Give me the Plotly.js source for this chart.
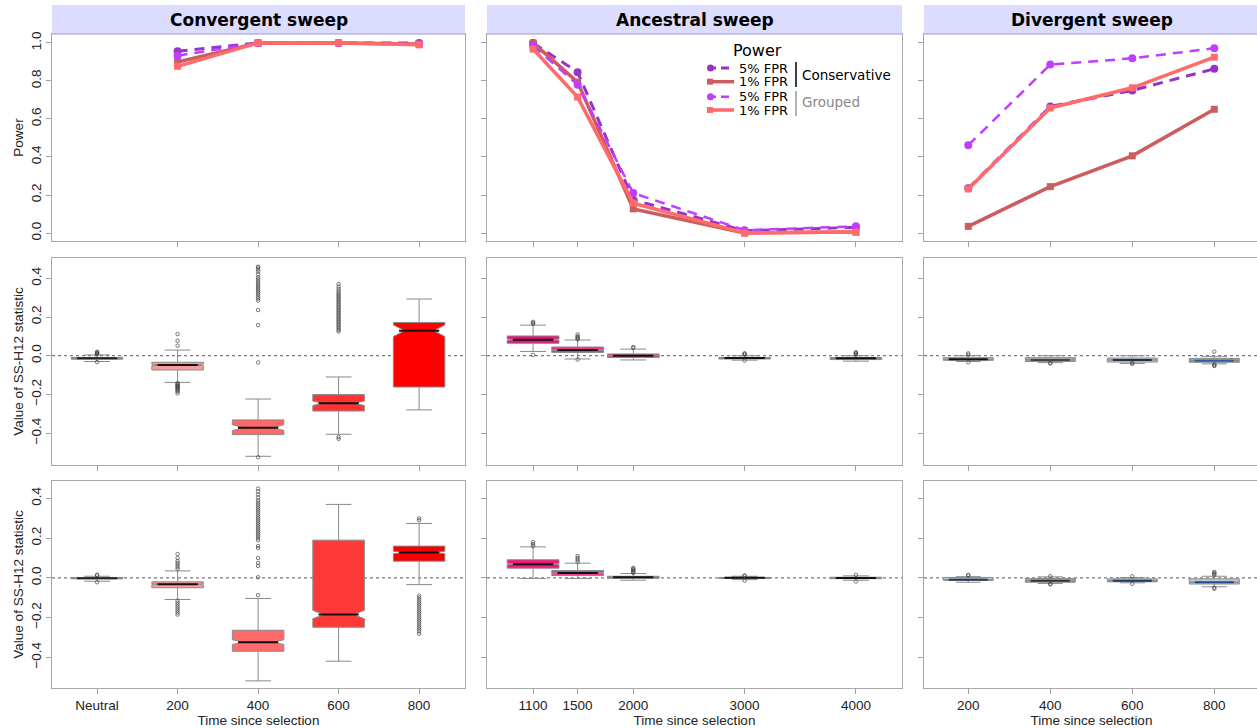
<!DOCTYPE html>
<html><head><meta charset="utf-8">
<script src="https://cdn.plot.ly/plotly-3.0.1.min.js"></script>
<style>html,body{margin:0;padding:0;overflow:hidden;background:#fff}#chart{width:1260px;height:728px}</style>
</head><body><div id="chart"></div>
<script>
// ---------------- DATA ----------------
const panelTitles = ["Convergent sweep", "Ancestral sweep", "Divergent sweep"];
const convCats = ["Neutral", "200", "400", "600", "800"];
const ancTimes = [1100, 1500, 2000, 3000, 4000];
const divTimes = [200, 400, 600, 800];

// Power (top row)
const convPowerTimes = ["200", "400", "600", "800"];
const convCons5 = [0.956, 1.0, 1.0, 1.0];
const convCons1 = [0.900, 1.0, 1.0, 0.995];
const convGrp5  = [0.933, 1.0, 1.0, 0.995];
const convGrp1  = [0.877, 1.0, 1.0, 0.990];

const ancCons5 = [1.000, 0.846, 0.175, 0.012, 0.030];
const ancCons1 = [1.000, 0.794, 0.127, 0.000, 0.005];
const ancGrp5  = [0.985, 0.780, 0.210, 0.015, 0.035];
const ancGrp1  = [0.968, 0.715, 0.157, 0.000, 0.005];

const divCons5 = [0.235, 0.666, 0.750, 0.864];
const divCons1 = [0.035, 0.244, 0.406, 0.651];
const divGrp5  = [0.462, 0.886, 0.919, 0.972];
const divGrp1  = [0.232, 0.658, 0.764, 0.925];

const legendLabels = ["5% FPR", "1% FPR", "5% FPR", "1% FPR"];
const legendGroups = ["Conservative", "Grouped"];

// SS-H12 boxplots, middle row (conservative)
const convMidQ1  = [-0.018, -0.074, -0.408, -0.286, -0.162];
const convMidMed = [-0.013, -0.048, -0.372, -0.246,  0.129];
const convMidQ3  = [-0.009, -0.034, -0.332, -0.201,  0.172];
const convMidLo  = [-0.030, -0.138, -0.520, -0.406, -0.280];
const convMidHi  = [ 0.004,  0.029, -0.224, -0.110,  0.293];
const convMidNotch = [0.001, 0.004, 0.015, 0.011, 0.030];
const convMidOut = [
  [0.008, 0.011, 0.014, 0.017, 0.020, -0.033],
  [0.052, 0.077, 0.112, -0.142, -0.146, -0.150, -0.154, -0.158, -0.162, -0.166, -0.170, -0.175, -0.180, -0.186, -0.195],
  [-0.035, 0.158, 0.236, 0.285, 0.295, 0.305, 0.315, 0.325, 0.335, 0.345, 0.355, 0.365, 0.375, 0.385, 0.395, 0.405, 0.420, 0.435, 0.445, 0.455, 0.460, -0.525],
  [-0.420, -0.430, 0.125, 0.133, 0.141, 0.149, 0.157, 0.165, 0.173, 0.181, 0.189, 0.197, 0.205, 0.213, 0.221, 0.229, 0.237, 0.245, 0.253, 0.261, 0.269, 0.277, 0.285, 0.293, 0.301, 0.309, 0.317, 0.325, 0.335, 0.345, 0.357, 0.370],
  []
];

// bottom row (grouped)
const convBotQ1  = [-0.005, -0.050, -0.370, -0.249, 0.084];
const convBotMed = [-0.002, -0.032, -0.324, -0.185, 0.128];
const convBotQ3  = [ 0.002, -0.020, -0.264,  0.190, 0.160];
const convBotLo  = [-0.017, -0.109, -0.519, -0.420, -0.034];
const convBotHi  = [ 0.008,  0.035, -0.104,  0.370, 0.274];
const convBotNotch = [0.001, 0.003, 0.012, 0.021, 0.006];
const convBotOut = [
  [0.012, 0.015, -0.022],
  [0.045, 0.055, 0.065, 0.075, 0.085, 0.100, 0.120, -0.115, -0.125, -0.135, -0.145, -0.155, -0.165, -0.175, -0.185],
  [-0.087, 0.003, 0.060, 0.075, 0.100, 0.150, 0.160, 0.190, 0.200, 0.210, 0.220, 0.230, 0.240, 0.250, 0.260, 0.270, 0.280, 0.290, 0.300, 0.310, 0.320, 0.330, 0.340, 0.350, 0.360, 0.370, 0.380, 0.390, 0.405, 0.420, 0.435, 0.450],
  [],
  [0.290, 0.300, -0.090, -0.100, -0.110, -0.120, -0.130, -0.140, -0.150, -0.160, -0.170, -0.180, -0.190, -0.200, -0.210, -0.220, -0.230, -0.240, -0.250, -0.260, -0.270, -0.282]
];

const ancMidQ1  = [0.064, 0.017, -0.009, -0.017, -0.020];
const ancMidMed = [0.083, 0.029,  0.000, -0.012, -0.013];
const ancMidQ3  = [0.102, 0.045,  0.009, -0.009, -0.009];
const ancMidLo  = [0.022, -0.017, -0.022, -0.023, -0.028];
const ancMidHi  = [0.158, 0.081,  0.034,  0.000,  0.000];
const ancMidNotch = [0.003, 0.002, 0.001, 0.001, 0.001];
const ancMidOut = [
  [0.165, 0.170, 0.175, 0.004],
  [0.085, 0.090, 0.095, 0.100, 0.110, -0.020],
  [0.040, 0.045],
  [0.005, 0.010, 0.012, -0.025],
  [0.005, 0.010, 0.014, 0.018]
];

const ancBotQ1  = [0.049, 0.012, -0.002, -0.003, -0.004];
const ancBotMed = [0.069, 0.024,  0.003,  0.000, -0.001];
const ancBotQ3  = [0.091, 0.037,  0.008,  0.002,  0.003];
const ancBotLo  = [-0.003, -0.003, -0.012, -0.009, -0.012];
const ancBotHi  = [0.156, 0.074,  0.022,  0.008,  0.010];
const ancBotNotch = [0.003, 0.002, 0.001, 0.001, 0.001];
const ancBotOut = [
  [0.160, 0.170, 0.180],
  [0.080, 0.090, 0.100, 0.110],
  [0.025, 0.030, 0.035, 0.040, 0.045, 0.050],
  [0.010, 0.012, -0.014],
  [0.015, -0.018]
];

const divMidQ1  = [-0.024, -0.030, -0.033, -0.034];
const divMidMed = [-0.019, -0.022, -0.022, -0.026];
const divMidQ3  = [-0.010, -0.010, -0.012, -0.014];
const divMidLo  = [-0.030, -0.036, -0.040, -0.042];
const divMidHi  = [ 0.000,  0.000,  0.000, -0.005];
const divMidNotch = [0.001, 0.001, 0.001, 0.001];
const divMidOut = [
  [0.012, 0.005, -0.034],
  [-0.038, -0.040],
  [-0.038, -0.042],
  [0.021, -0.045, -0.050, -0.053]
];

const divBotQ1  = [-0.012, -0.022, -0.020, -0.031];
const divBotMed = [-0.010, -0.015, -0.015, -0.022];
const divBotQ3  = [ 0.002, -0.003, -0.005, -0.005];
const divBotLo  = [-0.022, -0.028, -0.025, -0.045];
const divBotHi  = [ 0.006,  0.005,  0.002,  0.008];
const divBotNotch = [0.001, 0.001, 0.001, 0.001];
const divBotOut = [
  [0.012, 0.015],
  [0.008, -0.030, -0.033],
  [0.008, -0.030],
  [0.015, 0.020, 0.025, 0.030, -0.050, -0.055]
];

const yTitlePower = "Power";
const yTitleStat = "Value of SS-H12 statistic";
const xTitle = "Time since selection";

// ---------------- STYLE ----------------
const W = 1260, H = 728;
const colPx = [[52, 465], [487, 902], [924, 1259]];
const rowPx = [[34, 241], [258, 465], [481, 688]];
const xRanges = [[0.44, 5.57], [686, 4414], [92, 909]];
const yRanges = [[-0.042, 1.047], [-0.565, 0.505], [-0.555, 0.488]];
const boxWidths = [0.64, 465, 122];
const seriesStyle = [
  {color: '#9932CC', dash: '10px,7px', width: 3, symbol: 'circle', size: 8},
  {color: '#CD5C5C', dash: 'solid', width: 3.5, symbol: 'square', size: 7},
  {color: '#BF3EFF', dash: '10px,7px', width: 2.5, symbol: 'circle', size: 8},
  {color: '#FF6A6A', dash: 'solid', width: 3.5, symbol: 'square', size: 7}
];
const convMidFill = ['#8c8c8c', '#FF9999', '#FF6666', '#FF3333', '#FF0000'];
const convBotFill = ['#8c8c8c', '#FF9a9a', '#FF6b6b', '#FF3838', '#F80000'];
const ancMidFill = ['#F0107C', '#F0308A', '#C8508A', '#7a3a5a', '#a0a0a0'];
const ancBotFill = ['#F5147A', '#F03C8C', '#C05080', '#7a3050', '#d0d0d0'];
const divMidFill = ['#c8c8c8', '#a8a8a8', '#c8c8c8', '#8ca0c0'];
const divBotFill = ['#c8c8c8', '#a8a8a8', '#c0c8d8', '#c0c8d8'];
const convMed = ['#222', '#111', '#111', '#111', '#111'];
const ancMed = ['#111', '#111', '#111', '#111', '#111'];
const divMidMedCol = ['#111', '#444', '#1f3050', '#2f5f9f'];
const divBotMedCol = ['#1f3a60', '#333', '#1f3a60', '#1f4e8c'];
const tickFont = {family: 'Liberation Sans, Arial, sans-serif', size: 13.5, color: '#222'};

// ---------------- BUILD ----------------
const traces = [];
const shapes = [];
const annotations = [];
const layout = {
  width: W, height: H, margin: {l: 0, r: 0, t: 0, b: 0},
  paper_bgcolor: '#fff', plot_bgcolor: '#fff', showlegend: false,
  boxmode: 'overlay', shapes: shapes, annotations: annotations
};
const px = x => x / W;
const py = y => 1 - y / H;
function axId(k) { return k === 1 ? '' : String(k); }

const convPos = convCats.map((c, i) => i + 1);
const colPositions = [convPos, ancTimes, divTimes];

for (let r = 0; r < 3; r++) {
  for (let c = 0; c < 3; c++) {
    const k = r * 3 + c + 1;
    let tickvals, ticktext;
    if (c === 0) {
      tickvals = r === 0 ? convPowerTimes.map(t => convCats.indexOf(t) + 1) : convPos;
      ticktext = tickvals.map(v => convCats[v - 1]);
    } else {
      tickvals = colPositions[c];
      ticktext = tickvals.map(String);
    }
    layout['xaxis' + axId(k)] = {
      domain: [px(colPx[c][0]), px(colPx[c][1])], anchor: 'y' + axId(k),
      range: xRanges[c], tickmode: 'array', tickvals: tickvals, ticktext: ticktext,
      showticklabels: r === 2, ticks: 'outside', ticklen: 5, tickcolor: '#a0a0a0',
      showline: true, mirror: true, linecolor: '#a8a8a8', linewidth: 1,
      showgrid: false, zeroline: false, tickfont: tickFont,
      title: r === 2 ? {text: xTitle, font: tickFont, standoff: 0} : {text: ''}
    };
    const yt = r === 0 ? [0, 0.2, 0.4, 0.6, 0.8, 1.0] : [-0.4, -0.2, 0, 0.2, 0.4];
    layout['yaxis' + axId(k)] = {
      domain: [py(rowPx[r][1]), py(rowPx[r][0])], anchor: 'x' + axId(k),
      range: yRanges[r], tickmode: 'array', tickvals: yt,
      ticktext: yt.map(v => v.toFixed(1).replace('-', '\u2212')),
      showticklabels: c === 0, tickangle: -90, ticks: 'outside', ticklen: 5, tickcolor: '#a0a0a0',
      showline: true, mirror: true, linecolor: '#a8a8a8', linewidth: 1,
      showgrid: false, zeroline: false, tickfont: tickFont,
      title: c === 0 ? {text: r === 0 ? yTitlePower : yTitleStat, font: tickFont, standoff: 1} : {text: ''}
    };
    if (r > 0) {
      shapes.push({type: 'line', xref: 'x' + axId(k) + ' domain', yref: 'y' + axId(k),
        x0: 0, x1: 1, y0: 0, y1: 0, line: {color: '#7a7a7a', width: 1.2, dash: 'dot'}, layer: 'below'});
    }
  }
}

// power lines
const powerSets = [
  {k: 1, x: convPowerTimes.map(t => convCats.indexOf(t) + 1), ys: [convCons5, convCons1, convGrp5, convGrp1]},
  {k: 2, x: ancTimes, ys: [ancCons5, ancCons1, ancGrp5, ancGrp1]},
  {k: 3, x: divTimes, ys: [divCons5, divCons1, divGrp5, divGrp1]}
];
powerSets.forEach(ps => {
  ps.ys.forEach((y, s) => {
    const st = seriesStyle[s];
    traces.push({type: 'scatter', mode: 'lines+markers', x: ps.x, y: y,
      xaxis: 'x' + axId(ps.k), yaxis: 'y' + axId(ps.k),
      line: {color: st.color, width: st.width, dash: st.dash},
      marker: {color: st.color, symbol: st.symbol, size: st.size},
      hoverinfo: 'skip', showlegend: false});
  });
});

// boxes
function addBoxes(k, c, pos, q1, med, q3, lo, hi, notch, outs, fills, medCols) {
  const w = boxWidths[c];
  pos.forEach((p, i) => {
    traces.push({type: 'box', orientation: 'v', xaxis: 'x' + axId(k), yaxis: 'y' + axId(k),
      x: [p], q1: [q1[i]], median: [med[i]], q3: [q3[i]], lowerfence: [lo[i]], upperfence: [hi[i]],
      notched: true, notchspan: [notch[i]], notchwidth: 0.22, width: w, whiskerwidth: 0.5,
      fillcolor: fills[i], line: {color: '#8a8a8a', width: 1}, boxpoints: false,
      hoverinfo: 'skip', showlegend: false});
  });
  pos.forEach((p, i) => {
    traces.push({type: 'scatter', mode: 'lines', xaxis: 'x' + axId(k), yaxis: 'y' + axId(k),
      x: [p - w * 0.39, p + w * 0.39], y: [med[i], med[i]],
      line: {color: medCols[i], width: 2}, hoverinfo: 'skip', showlegend: false});
  });
  pos.forEach((p, i) => {
    if (!outs[i].length) return;
    traces.push({type: 'scatter', mode: 'markers', xaxis: 'x' + axId(k), yaxis: 'y' + axId(k),
      x: outs[i].map(() => p), y: outs[i],
      marker: {symbol: 'circle-open', size: 3.5, color: '#444', line: {width: 0.7, color: '#444'}},
      hoverinfo: 'skip', showlegend: false});
  });
}
addBoxes(4, 0, convPos, convMidQ1, convMidMed, convMidQ3, convMidLo, convMidHi, convMidNotch, convMidOut, convMidFill, convMed);
addBoxes(7, 0, convPos, convBotQ1, convBotMed, convBotQ3, convBotLo, convBotHi, convBotNotch, convBotOut, convBotFill, convMed);
addBoxes(5, 1, ancTimes, ancMidQ1, ancMidMed, ancMidQ3, ancMidLo, ancMidHi, ancMidNotch, ancMidOut, ancMidFill, ancMed);
addBoxes(8, 1, ancTimes, ancBotQ1, ancBotMed, ancBotQ3, ancBotLo, ancBotHi, ancBotNotch, ancBotOut, ancBotFill, ancMed);
addBoxes(6, 2, divTimes, divMidQ1, divMidMed, divMidQ3, divMidLo, divMidHi, divMidNotch, divMidOut, divMidFill, divMidMedCol);
addBoxes(9, 2, divTimes, divBotQ1, divBotMed, divBotQ3, divBotLo, divBotHi, divBotNotch, divBotOut, divBotFill, divBotMedCol);

// strips
panelTitles.forEach((t, c) => {
  shapes.push({type: 'rect', xref: 'paper', yref: 'paper', x0: px(colPx[c][0]), x1: px(colPx[c][1]),
    y0: py(34), y1: py(5), fillcolor: '#DCDCFF', line: {width: 0}});
  shapes.push({type: 'line', xref: 'paper', yref: 'paper', x0: px(colPx[c][0]), x1: px(colPx[c][1]),
    y0: py(34), y1: py(34), line: {color: '#9c9cd8', width: 1.2}});
  annotations.push({text: t, xref: 'paper', yref: 'paper', x: px((colPx[c][0] + colPx[c][1]) / 2), y: py(19.5),
    xanchor: 'center', yanchor: 'middle', showarrow: false,
    font: {family: 'DejaVu Sans', size: 17, weight: 'bold', color: '#000'}});
});

// manual legend
const legRowY = [68, 81.7, 96.7, 110];
annotations.push({text: yTitlePower, xref: 'paper', yref: 'paper', x: px(757), y: py(51),
  xanchor: 'center', yanchor: 'middle', showarrow: false, font: {family: 'DejaVu Sans', size: 16, color: '#000'}});
legendLabels.forEach((lab, i) => {
  const st = seriesStyle[i];
  const yy = legRowY[i];
  annotations.push({text: lab, xref: 'paper', yref: 'paper', x: px(737), y: py(yy),
    xanchor: 'left', yanchor: 'middle', showarrow: false, font: {family: 'DejaVu Sans', size: 13, color: '#000'}});
  shapes.push({type: 'line', xref: 'paper', yref: 'paper', x0: px(708), x1: px(734), y0: py(yy), y1: py(yy),
    line: {color: st.color, width: st.width, dash: st.dash === 'solid' ? 'solid' : '8px,5px'}});
  if (st.symbol === 'circle') {
    shapes.push({type: 'circle', xref: 'paper', yref: 'paper', x0: px(707), x1: px(714), y0: py(yy + 3.5), y1: py(yy - 3.5),
      fillcolor: st.color, line: {width: 0}});
  } else {
    shapes.push({type: 'rect', xref: 'paper', yref: 'paper', x0: px(707), x1: px(713), y0: py(yy + 3), y1: py(yy - 3),
      fillcolor: st.color, line: {width: 0}});
  }
});
shapes.push({type: 'line', xref: 'paper', yref: 'paper', x0: px(796), x1: px(796), y0: py(62), y1: py(87), line: {color: '#000', width: 1.5}});
shapes.push({type: 'line', xref: 'paper', yref: 'paper', x0: px(796), x1: px(796), y0: py(91), y1: py(116), line: {color: '#999', width: 1.5}});
annotations.push({text: legendGroups[0], xref: 'paper', yref: 'paper', x: px(800), y: py(75.5),
  xanchor: 'left', yanchor: 'middle', showarrow: false, font: {family: 'DejaVu Sans', size: 13.5, color: '#000'}});
annotations.push({text: legendGroups[1], xref: 'paper', yref: 'paper', x: px(800), y: py(102.5),
  xanchor: 'left', yanchor: 'middle', showarrow: false, font: {family: 'DejaVu Sans', size: 13.5, color: '#888'}});

Plotly.newPlot('chart', traces, layout, {staticPlot: true, displayModeBar: false});
</script>
</body></html>
